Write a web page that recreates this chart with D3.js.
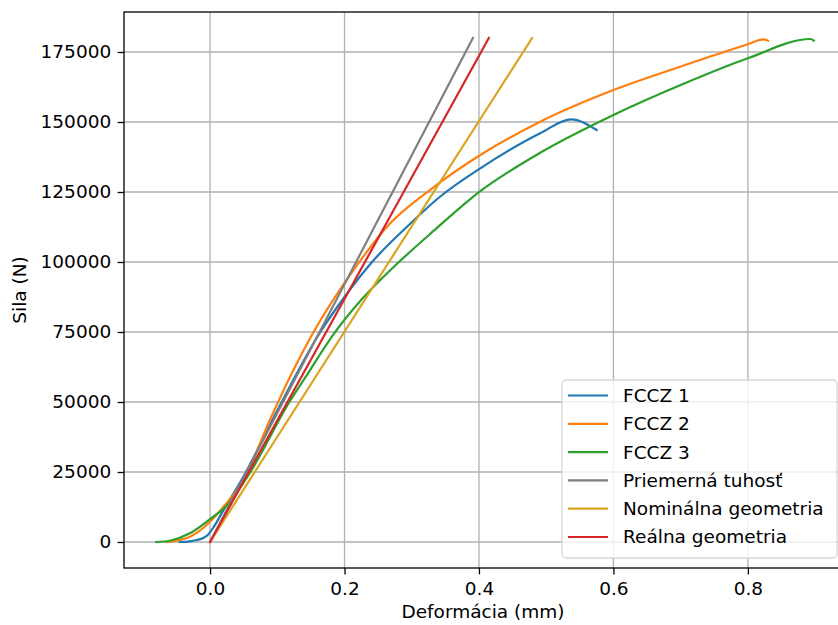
<!DOCTYPE html>
<html>
<head>
<meta charset="utf-8">
<script src="https://cdn.jsdelivr.net/npm/d3@7"></script>
<style>
    body { margin: 0; background: #fff; }
    text { font-family: "DejaVu Sans", sans-serif; }
</style>
</head>
<body>
<script>
// series: [deformation mm, force N]
var fccz1 = [[-0.045, 0], [-0.03, 250], [-0.02, 700], [-0.01, 1400], [-0.003, 2600], [0.005, 5200],
    [0.02, 11400], [0.05, 23500], [0.1, 47000], [0.164, 75000], [0.2, 87500], [0.241, 100000],
    [0.293, 112600], [0.342, 123300], [0.402, 133450], [0.45, 140600], [0.491, 145960],
    [0.537, 150950], [0.575, 147140]];
var fccz2 = [[-0.064, 0], [-0.03, 1900], [0, 7250], [0.02, 12600], [0.05, 22140], [0.089, 43570],
    [0.124, 61430], [0.154, 75000], [0.216, 98000], [0.268, 113800], [0.327, 125700], [0.402, 138200],
    [0.491, 150100], [0.6, 161400], [0.7, 169800], [0.8, 177750], [0.823, 179500], [0.83, 179040]];
var fccz3 = [[-0.08, 0], [-0.06, 460], [-0.03, 3100], [0, 8200], [0.025, 13000], [0.06, 25000],
    [0.118, 50000], [0.141, 58500], [0.183, 74000], [0.225, 86500], [0.27, 97500], [0.332, 111000],
    [0.402, 125300], [0.491, 139000], [0.6, 152500], [0.7, 163200], [0.8, 172750], [0.893, 179640],
    [0.898, 179040]];
var priemerna = [[0, 0], [0.391, 180000]];
var nominalna = [[0, 0], [0.479, 180000]];
var realna = [[0, 0], [0.4147, 180000]];

var seriesNames = ["FCCZ 1", "FCCZ 2", "FCCZ 3", "Priemerná tuhosť", "Nominálna geometria", "Reálna geometria"];
var seriesColors = ["#1f77b4", "#ff7f0e", "#2ca02c", "#7f7f7f", "#daa520", "#d62728"];
var xTicks = [0.0, 0.2, 0.4, 0.6, 0.8];
var yTicks = [0, 25000, 50000, 75000, 100000, 125000, 150000, 175000];

var series = [fccz1, fccz2, fccz3, priemerna, nominalna, realna];

var W = 838, H = 625;
var plotL = 124, plotT = 12, plotR = 842, plotB = 568;
var fontPx = "18.5px";
var tickLen = 6.4, tickPad = 6.4;

var svg = d3.select("body").append("svg")
    .attr("width", W)
    .attr("height", H);

var x = d3.scaleLinear().domain([-0.128, 0.94]).range([plotL, plotR]);
var y = d3.scaleLinear().domain([-9286, 189286]).range([plotB, plotT]);

// grid
svg.append("g").selectAll("line").data(xTicks).enter().append("line")
    .attr("x1", function (d) { return x(d); })
    .attr("x2", function (d) { return x(d); })
    .attr("y1", plotT).attr("y2", plotB)
    .attr("stroke", "#b0b0b0").attr("stroke-width", 1.3);
svg.append("g").selectAll("line").data(yTicks).enter().append("line")
    .attr("y1", function (d) { return y(d); })
    .attr("y2", function (d) { return y(d); })
    .attr("x1", plotL).attr("x2", plotR)
    .attr("stroke", "#b0b0b0").attr("stroke-width", 1.3);

// curves
var line = d3.line()
    .x(function (d) { return x(d[0]); })
    .y(function (d) { return y(d[1]); })
    .curve(d3.curveMonotoneX);

svg.append("g").selectAll("path").data(series).enter().append("path")
    .attr("d", line)
    .attr("fill", "none")
    .attr("stroke", function (d, i) { return seriesColors[i]; })
    .attr("stroke-width", 2.2)
    .attr("stroke-linejoin", "round")
    .attr("stroke-linecap", "square");

// axes
var xAxis = svg.append("g")
    .attr("transform", "translate(0," + plotB + ")")
    .call(d3.axisBottom(x).tickValues(xTicks).tickSize(tickLen).tickPadding(tickPad).tickFormat(d3.format(".1f")));
var yAxis = svg.append("g")
    .attr("transform", "translate(" + plotL + ",0)")
    .call(d3.axisLeft(y).tickValues(yTicks).tickSize(tickLen).tickPadding(tickPad).tickFormat(d3.format("d")));
[xAxis, yAxis].forEach(function (a) {
    a.select(".domain").remove();
    a.selectAll(".tick line").attr("stroke", "#000").attr("stroke-width", 1.3);
    a.selectAll(".tick text").attr("fill", "#000").style("font-size", fontPx)
        .style("font-family", "DejaVu Sans, sans-serif");
});
xAxis.selectAll(".tick text").attr("y", 27).attr("dy", 0);

// frame
svg.append("rect")
    .attr("x", plotL).attr("y", plotT)
    .attr("width", plotR - plotL).attr("height", plotB - plotT)
    .attr("fill", "none").attr("stroke", "#000").attr("stroke-width", 1.3);

// axis labels
svg.append("text")
    .attr("x", (plotL + plotR) / 2)
    .attr("y", 618)
    .style("text-anchor", "middle")
    .style("font-size", fontPx)
    .text("Deformácia (mm)");
svg.append("text")
    .attr("transform", "rotate(-90)")
    .attr("x", -(plotT + plotB) / 2)
    .attr("y", 26)
    .style("text-anchor", "middle")
    .style("font-size", fontPx)
    .text("Sila (N)");

// legend
var lg = svg.append("g").attr("transform", "translate(562,380)");
lg.append("rect")
    .attr("width", 275).attr("height", 178)
    .attr("rx", 4).attr("ry", 4)
    .attr("fill", "#fff").attr("fill-opacity", 0.8)
    .attr("stroke", "#d8d8d8").attr("stroke-width", 1.3);
var items = lg.selectAll("g.item").data(seriesNames).enter().append("g")
    .attr("class", "item")
    .attr("transform", function (d, i) { return "translate(0," + (15.5 + i * 28.3) + ")"; });
items.append("line")
    .attr("x1", 6).attr("x2", 46)
    .attr("stroke", function (d, i) { return seriesColors[i]; })
    .attr("stroke-width", 2.2);
items.append("text")
    .attr("x", 61)
    .attr("dy", "0.35em")
    .style("font-size", fontPx)
    .attr("fill", "#000")
    .text(function (d) { return d; });
</script>
</body>
</html>
